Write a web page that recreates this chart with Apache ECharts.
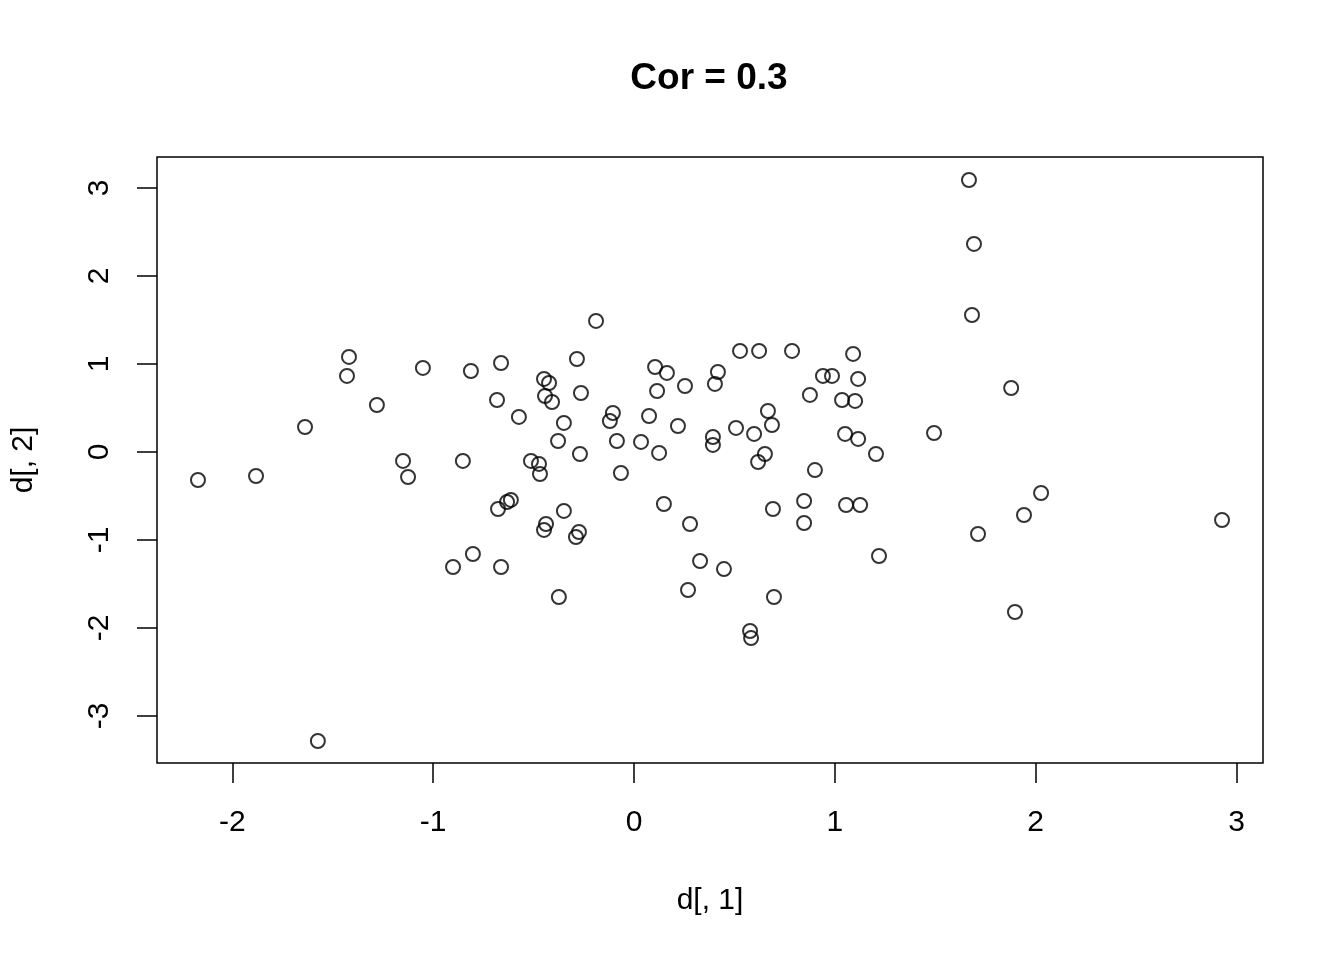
<!DOCTYPE html>
<html>
<head>
<meta charset="utf-8">
<script src="https://cdn.jsdelivr.net/npm/echarts@6/dist/echarts.min.js"></script>
<style>
  html, body { margin: 0; padding: 0; background: #fff; }
  #chart { width: 1344px; height: 960px; }
</style>
</head>
<body>
<div id="chart"></div>
<script>
// d[, 1] values
var xVals = [
  -2.171, -1.882, -1.638, -1.574, -1.419, -1.429, -1.280, -1.150, -1.125, -1.051,
  -0.901, -0.852, -0.812, -0.802, -0.682, -0.662, -0.677, -0.662, -0.632, -0.613,
  -0.573, -0.513, -0.473, -0.468, -0.448, -0.423, -0.443, -0.408, -0.438, -0.448,
  -0.378, -0.374, -0.349, -0.349, -0.289, -0.274, -0.284, -0.264, -0.269, -0.189,
  -0.120, -0.105, -0.085, -0.065, 0.035, 0.075, 0.105, 0.115, 0.125, 0.149,
  0.164, 0.219, 0.254, 0.269, 0.279, 0.329, 0.393, 0.393, 0.403, 0.418,
  0.448, 0.508, 0.528, 0.578, 0.583, 0.598, 0.618, 0.623, 0.652, 0.667,
  0.687, 0.692, 0.697, 0.787, 0.847, 0.847, 0.876, 0.901, 0.941, 0.986,
  1.036, 1.051, 1.056, 1.091, 1.101, 1.116, 1.116, 1.126, 1.205, 1.220,
  1.494, 1.668, 1.693, 1.683, 1.713, 1.878, 1.897, 1.942, 2.027, 2.928
];
// d[, 2] values
var yVals = [
  -0.318, -0.273, 0.284, -3.284, 1.080, 0.864, 0.534, -0.102, -0.284, 0.955,
  -1.307, -0.102, 0.920, -1.159, 0.591, 1.011, -0.648, -1.307, -0.568, -0.545,
  0.398, -0.102, -0.136, -0.250, 0.830, 0.784, 0.636, 0.568, -0.818, -0.886,
  0.125, -1.648, 0.330, -0.670, -0.966, -0.909, 1.057, 0.670, -0.023, 1.489,
  0.352, 0.443, 0.125, -0.239, 0.114, 0.409, 0.966, 0.693, -0.011, -0.591,
  0.898, 0.295, 0.750, -1.568, -0.818, -1.239, 0.170, 0.080, 0.773, 0.909,
  -1.330, 0.273, 1.148, -2.034, -2.114, 0.205, -0.114, 1.148, -0.023, 0.466,
  0.307, -0.648, -1.648, 1.148, -0.557, -0.807, 0.648, -0.205, 0.864, 0.864,
  0.591, 0.205, -0.602, 1.114, 0.580, 0.830, 0.148, -0.602, -0.023, -1.182,
  0.216, 3.091, 2.364, 1.557, -0.932, 0.727, -1.818, -0.716, -0.466, -0.773
];
var xTicks = [-2, -1, 0, 1, 2, 3];
var yTicks = [-3, -2, -1, 0, 1, 2, 3];

var points = xVals.map(function (x, i) { return [x, yVals[i]]; });

var font = '"Liberation Sans", Arial, Helvetica, sans-serif';
var chart = echarts.init(document.getElementById('chart'), null, { renderer: 'canvas' });

var option = {
  backgroundColor: '#fff',
  animation: false,
  grid: {
    left: 157, right: 81, top: 157, bottom: 197,
    show: true,
    borderColor: '#000',
    borderWidth: 1.5,
    backgroundColor: 'transparent'
  },
  xAxis: {
    type: 'value',
    min: -2.375,
    max: 3.132,
    axisLine: { show: false, onZero: false },
    splitLine: { show: false },
    axisTick: {
      show: true, inside: false, length: 20,
      customValues: xTicks,
      lineStyle: { color: '#000', width: 1.5 }
    },
    axisLabel: {
      customValues: xTicks,
      margin: 45,
      color: '#000',
      fontSize: 30,
      fontFamily: font
    }
  },
  yAxis: {
    type: 'value',
    min: -3.534,
    max: 3.352,
    axisLine: { show: false, onZero: false },
    splitLine: { show: false },
    axisTick: {
      show: true, inside: false, length: 20,
      customValues: yTicks,
      lineStyle: { color: '#000', width: 1.5 }
    },
    axisLabel: {
      customValues: yTicks,
      rotate: 90,
      margin: 42,
      color: '#000',
      fontSize: 30,
      fontFamily: font
    }
  },
  graphic: [
    {
      type: 'text', x: 709, y: 79,
      style: {
        text: 'Cor = 0.3', fill: '#000', align: 'center', verticalAlign: 'middle',
        font: 'bold 37px ' + font
      }
    },
    {
      type: 'text', x: 710, y: 901,
      style: {
        text: 'd[, 1]', fill: '#000', align: 'center', verticalAlign: 'middle',
        font: '30px ' + font
      }
    },
    {
      type: 'text', x: 24, y: 460, rotation: Math.PI / 2,
      style: {
        text: 'd[, 2]', fill: '#000', align: 'center', verticalAlign: 'middle',
        font: '30px ' + font
      }
    }
  ],
  series: [
    {
      type: 'scatter',
      data: points,
      symbol: 'circle',
      symbolSize: 14,
      itemStyle: {
        color: 'rgba(0,0,0,0)',
        borderColor: '#000',
        borderWidth: 2
      },
      emphasis: { disabled: true }
    }
  ]
};
chart.setOption(option);
</script>
</body>
</html>
